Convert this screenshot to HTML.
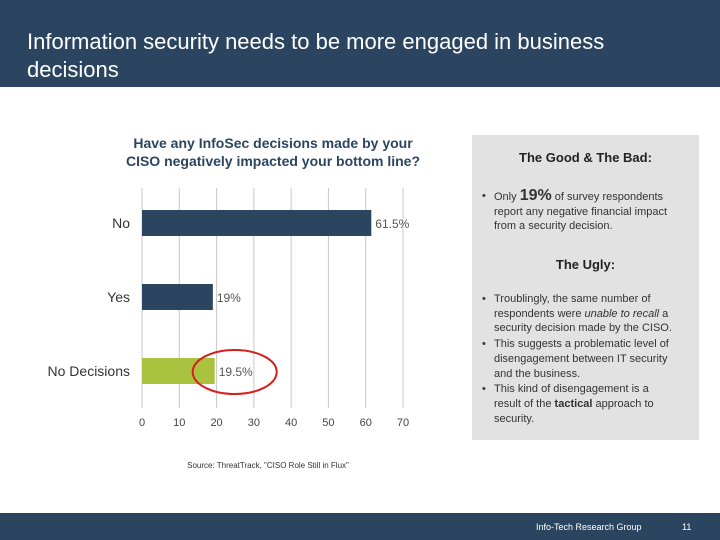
<!DOCTYPE html>
<html><head><meta charset="utf-8"><style>
body{margin:0;width:720px;height:540px;position:relative;background:#fff;font-family:"Liberation Sans",sans-serif;overflow:hidden}
.hdr{position:absolute;left:0;top:0;width:720px;height:87px;background:#2b4560;color:#fff;font-size:22px;line-height:28px}
.hdr div{position:absolute;left:27px;top:28px}
.ftr{position:absolute;left:0;top:513px;width:720px;height:27px;background:#2b4560;color:#fff;font-size:9px}
.box{position:absolute;left:472px;top:135px;width:227px;height:305px;background:#e2e2e2;font-size:11px;color:#333;line-height:14.7px}
.box h3{margin:0;font-size:13px;text-align:center;font-weight:bold;color:#222;position:absolute;width:100%}
.box ul{margin:0;padding:0;list-style:none;position:absolute;left:10px;width:206px}
.box li{padding-left:12px;position:relative;margin-bottom:1px}
.box li:before{content:"•";position:absolute;left:0}
</style></head><body>
<div class="hdr"><div>Information security needs to be more engaged in business<br>decisions</div></div>
<svg id="chart" style="position:absolute;left:0;top:0" width="470" height="480"></svg>
<div class="box">
<h3 style="top:16px">The Good &amp; The Bad:</h3>
<ul style="top:54px"><li>Only <b style="font-size:16px">19%</b> of survey respondents report any negative financial impact from a security decision.</li></ul>
<h3 style="top:123px">The Ugly:</h3>
<ul style="top:157px">
<li>Troublingly, the same number of respondents were <i>unable to recall</i> a security decision made by the CISO.</li>
<li>This suggests a problematic level of disengagement between IT security and the business.</li>
<li>This kind of disengagement is a<br>result of the <b>tactical</b> approach to security.</li></ul>
</div>
<div class="ftr"><span style="position:absolute;left:536px;top:9px">Info-Tech Research Group</span><span style="position:absolute;left:682px;top:9px">11</span></div>
<script>
const categories=["No","Yes","No Decisions"];
const values=[61.5,19,19.5];
const labels=["61.5%","19%","19.5%"];
const ticks=[0,10,20,30,40,50,60,70];
const colors=["#2b4560","#2b4560","#a9c23f"];
const svg=document.getElementById('chart');const NS="http://www.w3.org/2000/svg";
const x=v=>142+v*(261/70);
const yc=i=>223+i*74;
function el(t,a,txt){const e=document.createElementNS(NS,t);for(const k in a)e.setAttribute(k,a[k]);if(txt!==undefined)e.textContent=txt;svg.appendChild(e);return e;}
const t1=el('text',{x:273,y:148,'text-anchor':'middle','font-size':14,'font-weight':'bold',fill:'#2b4560'},'Have any InfoSec decisions made by your');


const t2=el('text',{x:273,y:166,'text-anchor':'middle','font-size':14,'font-weight':'bold',fill:'#2b4560'},'CISO negatively impacted your bottom line?');


ticks.forEach(t=>{
const g=el('line',{x1:x(t),x2:x(t),y1:188,y2:408,stroke:'#c8c8c8','stroke-width':1});


const l=el('text',{x:x(t),y:426,'text-anchor':'middle','font-size':11,fill:'#444'},String(t));


});
categories.forEach((c,i)=>{
const b=el('rect',{x:x(0),y:yc(i)-13,width:x(values[i])-x(0),height:26,fill:colors[i]});


const cl=el('text',{x:130,y:yc(i)+5,'text-anchor':'end','font-size':14,fill:'#333'},c);


const vl=el('text',{x:x(values[i])+4,y:yc(i)+5,'font-size':12,fill:'#555'},labels[i]);


});
const circ=el('ellipse',{cx:x(values[2])+20,cy:yc(2)+1,rx:42,ry:22,fill:'none',stroke:'#d62020','stroke-width':2});


const src=el('text',{x:268,y:468,'text-anchor':'middle','font-size':8,fill:'#333'},'Source: ThreatTrack, "CISO Role Still in Flux"');


</script>
</body></html>
